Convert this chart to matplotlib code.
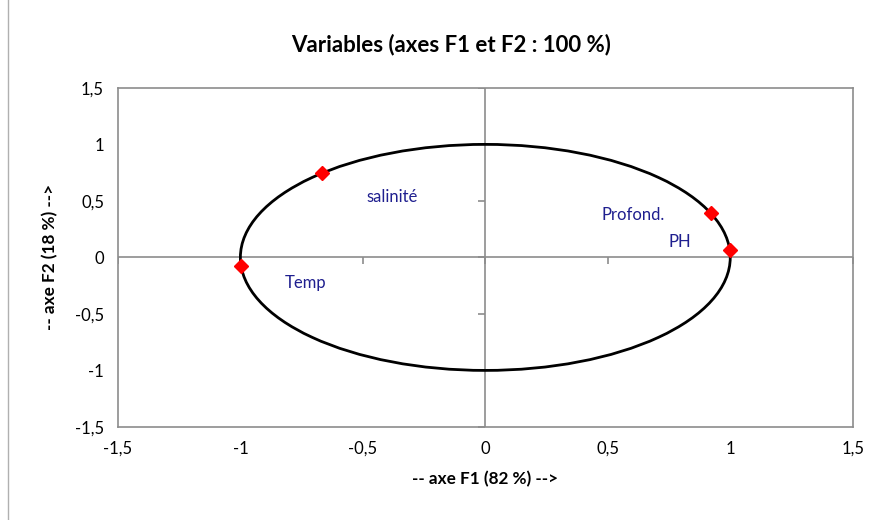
import matplotlib.pyplot as plt
import matplotlib.patches as mpatches
import numpy as np

plt.rcParams['font.family'] = ['Lato', 'DejaVu Sans']

# donnees
variables = ['salinité', 'Temp', 'Profond.', 'PH']
f1 = [-0.665, -0.996, 0.922, 1.0]
f2 = [0.743, -0.08, 0.39, 0.062]
lab_offsets = [(50, -17), (46, -12), (-56, -1), (-36, 6)]  # points

ticks = [-1.5, -1, -0.5, 0, 0.5, 1, 1.5]
tick_labels = ['-1,5', '-1', '-0,5', '0', '0,5', '1', '1,5']

fig = plt.figure(figsize=(8.8, 5.2), dpi=100)
fig.patches.append(mpatches.Rectangle((0.009, -0.01), 1.0, 1.02, transform=fig.transFigure,
                                      fill=False, edgecolor='#b0b0b0', lw=1))
ax = fig.add_axes([0.134, 0.179, 0.835, 0.652])
ax.set_xlim(-1.5, 1.5)
ax.set_ylim(-1.5, 1.5)

grey = '#8c8c8c'
for s in ax.spines.values():
    s.set_color(grey)
    s.set_linewidth(1.2)

ax.axhline(0, color=grey, lw=1.2, zorder=1)
ax.axvline(0, color=grey, lw=1.2, zorder=1)
# petites graduations sur les axes centraux
ax.plot(ticks, np.zeros(len(ticks)), linestyle='none', marker=3, markersize=5, color=grey, mew=1.2)
ax.plot(np.zeros(len(ticks)), ticks, linestyle='none', marker=0, markersize=5, color=grey, mew=1.2)

cercle = mpatches.Circle((0, 0), 1, fill=False, edgecolor='black', lw=2, zorder=2)
ax.add_patch(cercle)

ax.plot(f1, f2, linestyle='none', marker='D', color='red', markersize=7, zorder=3)
for nom, x, y, off in zip(variables, f1, f2, lab_offsets):
    ax.annotate(nom, (x, y), xytext=off, textcoords='offset points', ha='center', va='center',
                color='#1f1f8f', fontsize=12)

ax.set_xticks(ticks)
ax.set_xticklabels(tick_labels)
ax.set_yticks(ticks)
ax.set_yticklabels(tick_labels)
ax.tick_params(length=0, pad=10, labelsize=12)

ax.set_xlabel('-- axe F1 (82 %) -->', fontsize=12.3, fontweight='bold', labelpad=10)
ax.set_ylabel('-- axe F2 (18 %) -->', fontsize=12.3, fontweight='bold', labelpad=12)
fig.text(0.5125, 0.915, 'Variables (axes F1 et F2 : 100 %)', ha='center', va='center',
         fontsize=16, fontweight='bold')

plt.savefig('out.png', dpi=100)
